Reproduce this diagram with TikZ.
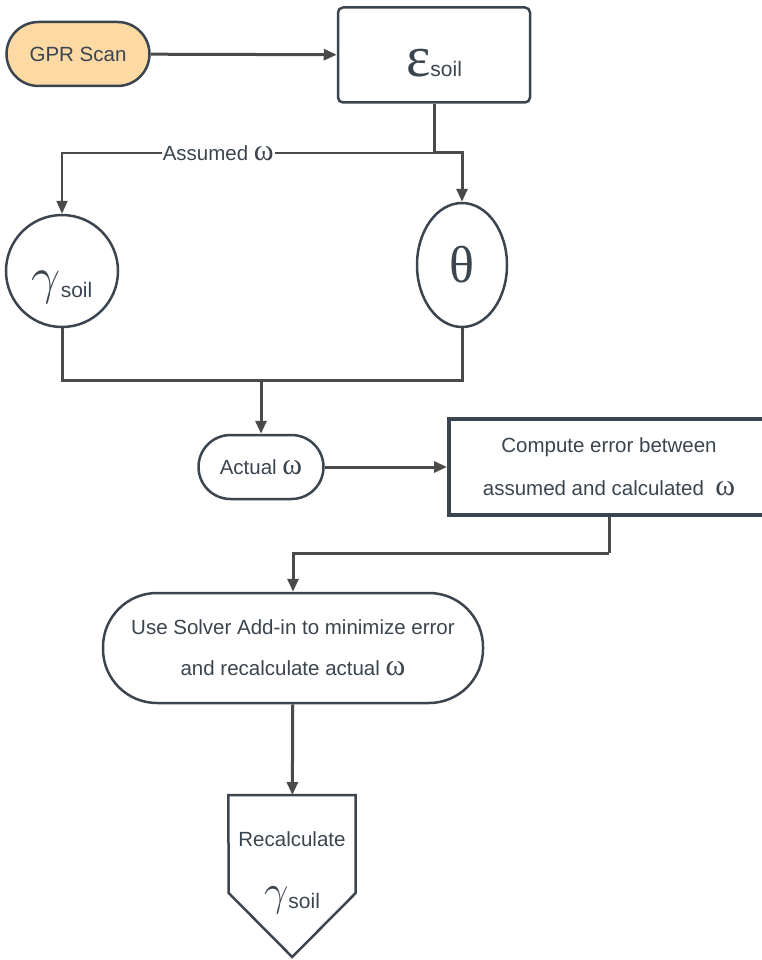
\documentclass[tikz,border=0pt]{standalone}
\usepackage{fontspec}
\setmainfont{Liberation Sans}
\newfontfamily\grk{Liberation Serif}
\usetikzlibrary{arrows.meta,positioning,shapes.geometric}
\definecolor{inkgray}{HTML}{3B4550}
\definecolor{wiregray}{HTML}{4A4A4A}
\definecolor{scanorange}{HTML}{FDD9A3}
\newcommand{\sym}[2]{{\grk\fontsize{#1}{#1}\selectfont #2}}
\newcommand{\gam}[1]{\scalebox{#1}{$\gamma$}}
\newcommand{\om}{\sym{30}{ω}}
\newcommand{\soil}{{\fontsize{21}{21}\selectfont soil}}

\begin{document}
\begin{tikzpicture}[
  x=1pt, y=-1pt,
  font=\fontsize{20.5}{24}\selectfont,
  text=inkgray,
  box/.style={draw=inkgray,line width=2.5pt,fill=white,align=center,inner sep=0pt},
  pill/.style={box,rounded corners=#1},
  outline/.style={draw=inkgray,line width=2.5pt,line join=miter},
  flow/.style={draw=wiregray,line width=3pt,-{Triangle[length=13pt,width=11pt]}},
  wire/.style={draw=wiregray,line width=3pt}
]
  \clip (0,0) rectangle (762,960);
  % nodes
  \node (scan) [pill=32pt,fill=scanorange,minimum width=143pt,minimum height=64pt] at (78,54) {GPR Scan};
  \node (eps) [box,rounded corners=5pt,minimum width=192pt,minimum height=95pt,text height=50pt,text depth=6pt] at (434,55) {\sym{58}{ε}\soil};
  \node (gamma) [box,circle,minimum size=112pt,text height=58pt,text depth=6pt] at (62,271) {\raisebox{4pt}{\gam{2.5}}\soil};
  \node (theta) [box,ellipse,minimum width=90pt,minimum height=124pt] at (462,265) {\sym{52}{θ}};
  \node (actual) [pill=32pt,minimum width=125pt,minimum height=64pt] at (261,467) {Actual \om};
  \node (compute) [box,line width=4pt,minimum width=320pt,minimum height=96pt,font=\fontsize{20.5}{43}\selectfont] at (609,467) {Compute error between\\assumed and calculated~~\om};
  \node (solver) [pill=54pt,minimum width=380pt,minimum height=110pt,font=\fontsize{20.5}{41}\selectfont] at (293,648) {Use Solver Add-in to minimize error\\and recalculate actual \om};
  \node (recalc) [anchor=north,align=center,minimum width=127pt,inner xsep=0pt,inner ysep=36pt] at (292,795) {Recalculate\\[38pt]\raisebox{3pt}{\gam{2.1}}\soil};
  \draw[outline] (recalc.north west) -- (recalc.north east) -- ++(0,98) -- ++(-63.5,64) -- ++(-63.5,-64) -- cycle;
  % joints
  \coordinate (split) at (434,153);
  \coordinate (merge) at (261,380);
  \coordinate (turn) at (609,553);
  % connectors
  \draw[flow] (scan) -- (eps);
  \draw[wire] (eps) -- (split);
  \draw[flow,line width=2pt] (split) -| node[pos=0.29,fill=white,inner sep=1pt] {Assumed \om} (gamma);
  \draw[flow] (split) -| (theta);
  \draw[wire] (gamma.south) |- (merge) -| (theta.south);
  \draw[flow] (merge) -- (actual);
  \draw[flow] (actual) -- (compute);
  \draw[wire] (compute) -- (turn);
  \draw[flow] (turn) -| (solver);
  \draw[flow] (solver) -- (recalc);
\end{tikzpicture}
\end{document}
